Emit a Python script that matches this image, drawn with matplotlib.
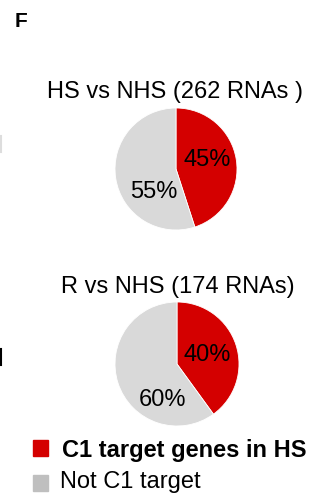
import matplotlib.pyplot as plt
from matplotlib.patches import Rectangle
from matplotlib.lines import Line2D

plt.rcParams['font.family'] = ['Liberation Sans', 'DejaVu Sans']

#===================================================================================================
#Data
titles = ['HS vs NHS (262 RNAs )', 'R vs NHS (174 RNAs)']
c1_target = [45, 40]          #% of RNAs that are C1 target genes in HS
not_target = [55, 60]         #% of RNAs that are not C1 targets
legend_labels = ['C1 target genes in HS', 'Not C1 target']

red = '#d40000'
grey = '#d9d9d9'
grey_legend = '#bfbfbf'

#===================================================================================================
W, H = 315, 502
fig = plt.figure(figsize=(W/100, H/100), dpi=100)

def fx(px):
    return px / W

def fy(py):
    return 1 - py / H

#pie centers / radius in pixels, title centers, label offsets (fraction of radius)
pie_pos = [(176, 170, 61), (177, 365, 62)]
title_pos = [(175, 98), (178, 293)]
red_lbl = [(0.51, 0.16), (0.48, 0.16)]
grey_lbl = [(-0.36, -0.36), (-0.23, -0.56)]

for i in range(2):
    cx, cy, r = pie_pos[i]
    ax = fig.add_axes([fx(cx - r), fy(cy + r), 2*r/W, 2*r/H])
    ax.pie([c1_target[i], not_target[i]], colors=[red, grey], startangle=90,
           counterclock=False, radius=1,
           wedgeprops=dict(edgecolor='white', linewidth=0.6))
    ax.set_xlim(-1, 1)
    ax.set_ylim(-1, 1)
    ax.set_aspect('auto')
    ax.set_axis_off()
    ax.text(*red_lbl[i], f'{c1_target[i]}%', fontsize=17, ha='center', va='center')
    ax.text(*grey_lbl[i], f'{not_target[i]}%', fontsize=17, ha='center', va='center')
    tx, ty = title_pos[i]
    fig.text(fx(tx), fy(ty), titles[i], fontsize=17, ha='center', va='baseline')

#panel letter
fig.text(fx(15), fy(27), 'F', fontsize=15, fontweight='bold', ha='left', va='baseline')

#legend
fig.add_artist(Rectangle((fx(33), fy(457)), 15/W, 16/H, color=red, transform=fig.transFigure))
fig.add_artist(Rectangle((fx(33), fy(492)), 15/W, 16/H, color=grey_legend, transform=fig.transFigure))
fig.text(fx(62), fy(457), legend_labels[0], fontsize=17, fontweight='bold', ha='left', va='baseline')
fig.text(fx(60), fy(488), legend_labels[1], fontsize=17, ha='left', va='baseline')

#cropped bits of the neighbouring panel on the left edge
fig.add_artist(Line2D([fx(1), fx(1)], [fy(137), fy(153)], color='#dddddd', lw=1.5))
fig.add_artist(Line2D([fx(1), fx(1)], [fy(350), fy(366)], color='black', lw=1.5))

fig.savefig('out.png', dpi=100)
